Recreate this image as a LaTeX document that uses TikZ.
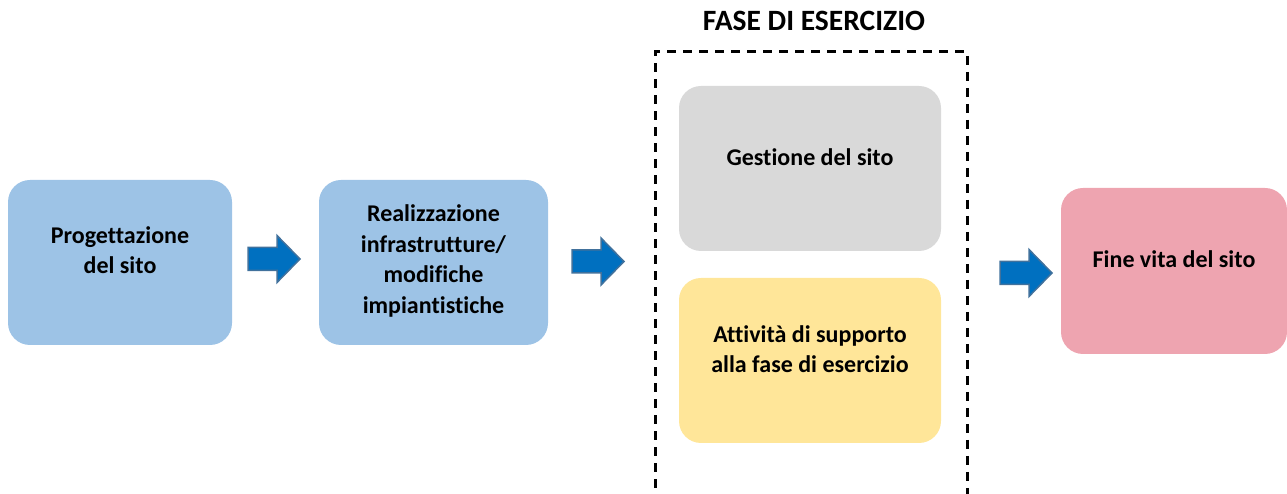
\documentclass[tikz,border=0pt]{standalone}
\usepackage{fontspec}
\setmainfont{Carlito}[Ligatures=NoCommon]
\definecolor{boxblue}{HTML}{9DC3E6}
\definecolor{boxgrey}{HTML}{D9D9D9}
\definecolor{boxyellow}{HTML}{FFE699}
\definecolor{boxpink}{HTML}{EEA4B0}
\definecolor{arrowfill}{HTML}{0070C0}
\definecolor{arrowline}{HTML}{41719C}
\tikzset{
  phasebox/.style={shape=rectangle, rounded corners=22pt, inner sep=0pt, draw=none},
  lbl/.style={font=\bfseries\fontsize{24}{30.5}\selectfont, align=center, inner sep=0pt, text=black},
  titlelbl/.style={font=\bfseries\fontsize{29.5}{34}\selectfont, inner sep=0pt, anchor=base},
  groupframe/.style={draw=black, line width=3pt, dash pattern=on 9pt off 7pt},
  blockarrow/.pic={\path[fill=arrowfill, draw=arrowline, line width=1.5pt]
     (0,-11.5) -- (29,-11.5) -- (29,-23.5) -- (52,0) -- (29,23.5) -- (29,11.5) -- (0,11.5) -- cycle;}
}
\begin{document}
\begin{tikzpicture}[x=1pt,y=1pt]
\useasboundingbox (0,0) rectangle (1287,494);
\clip (0,0) rectangle (1287,494);
% boxes
\node[phasebox, fill=boxblue, minimum width=224pt, minimum height=165pt] (b1) at (120,231.5) {};
\node[phasebox, fill=boxblue, minimum width=229pt, minimum height=165pt] (b2) at (433.5,231.5) {};
\node[phasebox, fill=boxgrey, minimum width=262pt, minimum height=165pt] (b3) at (810,325.5) {};
\node[phasebox, fill=boxyellow, minimum width=262pt, minimum height=165pt] (b4) at (810,133.5) {};
\node[phasebox, fill=boxpink, minimum width=226pt, minimum height=166pt] (b5) at (1174,223) {};
% labels
\node[lbl] (t1) at (120,244) {Progettazione\\del sito};
\node[lbl] (t2) at (433.5,233) {Realizzazione\\infrastrutture/\\modifiche\\impiantistiche};
\node[lbl] (t3) at (810,337) {Gestione del sito};
\node[lbl] (t4) at (810,145) {Attività di supporto\\alla fase di esercizio};
\node[lbl] (t5) at (1174,234.5) {Fine vita del sito};
% group frame
\coordinate (gl) at (655,-10);
\coordinate (gr) at (967,-10);
\coordinate (gt) at (811,442);
\draw[groupframe] (gl) |- (gt) -| (gr);
\node[titlelbl] (title) at (814,463) {FASE DI ESERCIZIO};
% arrows
\coordinate (a1) at (248,235);
\coordinate (a2) at (572,232.5);
\coordinate (a3) at (1000,221);
\pic at (a1) {blockarrow};
\pic at (a2) {blockarrow};
\pic at (a3) {blockarrow};
\end{tikzpicture}
\end{document}
